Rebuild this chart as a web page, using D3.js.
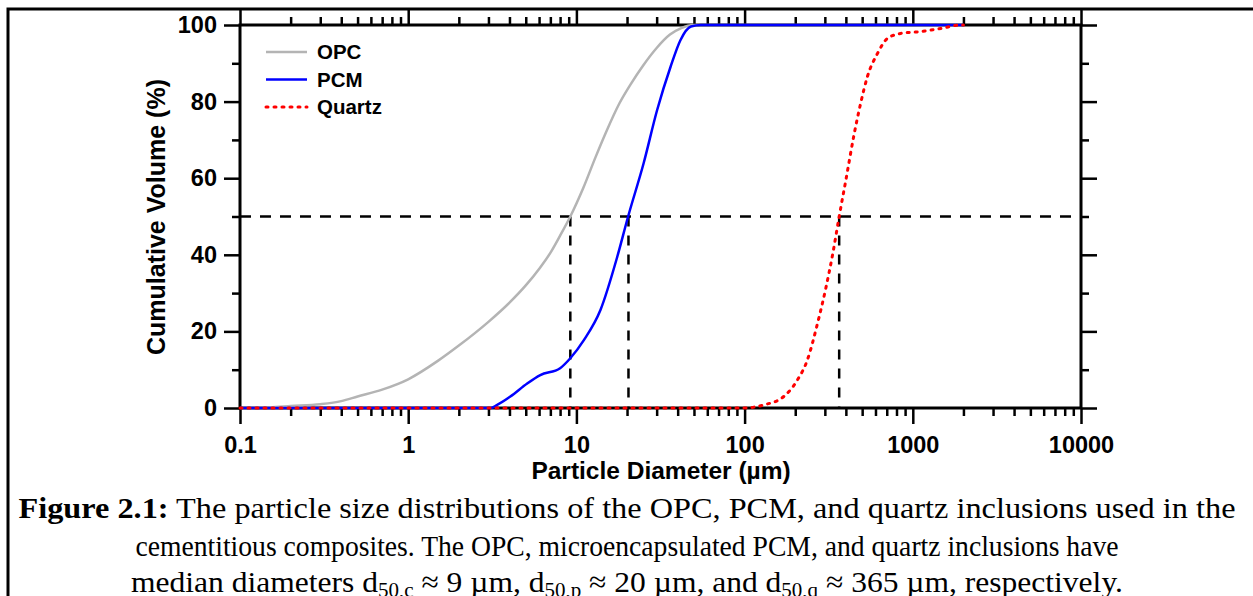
<!DOCTYPE html>
<html>
<head>
<meta charset="utf-8">
<script src="https://cdn.jsdelivr.net/npm/d3@7"></script>
<style>
  body { margin: 0; background: #fff; }
  svg { display: block; }
  .tick text { font-family: "Liberation Sans", Arial, sans-serif; font-weight: bold; }
</style>
</head>
<body>
<svg id="chart" width="1253" height="596"></svg>
<script>
// particle size (µm) and cumulative volume (%)
var opcSize = [0.1, 0.15, 0.2, 0.3, 0.4, 0.5, 0.7, 1, 1.5, 2, 3, 4, 5, 6, 7, 8, 9.2, 11, 13, 15, 18, 21, 25, 30, 36, 42, 50, 2000];
var opcVol  = [0, 0.15, 0.5, 1.0, 1.8, 3, 4.8, 7.5, 12.3, 16.3, 22.5, 27.5, 32, 36.3, 40.5, 45, 50, 57.5, 65.5, 72, 79.5, 84.5, 89.5, 94, 97.5, 99.2, 100, 100];
var pcmSize = [0.1, 3.1, 3.38, 4.05, 5.1, 6.1, 8.0, 9.2, 11.1, 13.9, 17.5, 20.3, 25.1, 30.2, 36.3, 41.6, 48, 55, 2000];
var pcmVol  = [0, 0, 0.8, 3, 6.4, 8.6, 10.4, 13, 17.8, 25.6, 39.5, 50, 63.9, 77.8, 89.1, 96.1, 99.6, 100, 100];
var qtzSize = [0.1, 98, 130, 171, 206, 236, 271, 303, 335, 365, 400, 448, 490, 537, 617, 707, 849, 1117, 1468, 1932, 2000];
var qtzVol  = [0, 0, 0.8, 3, 7.3, 12.5, 22, 31, 40.5, 50, 59.5, 71.5, 79.6, 86.5, 92.6, 96.5, 97.8, 98.3, 99.1, 100, 100];
var seriesNames = ["OPC", "PCM", "Quartz"];
var d50 = [9.2, 20.4, 365];
var xMajor = [0.1, 1, 10, 100, 1000, 10000];
var xLabels = ["0.1", "1", "10", "100", "1000", "10000"];
var yMajor = [0, 20, 40, 60, 80, 100];
var yMinor = [10, 30, 50, 70, 90];

var [plotL, plotR, plotT, plotB] = [240, 1081, 25, 408];
var sans = '"Liberation Sans", Arial, sans-serif';
var serif = '"Liberation Serif", "Times New Roman", serif';

var x = d3.scaleLog().domain([0.1, 10000]).range([plotL, plotR]);
var y = d3.scaleLinear().domain([0, 100]).range([plotB, plotT]);

var xMinor = [];
xMajor.slice(0, -1).forEach(d => { for (var k = 2; k <= 9; k++) xMinor.push(d * k); });

var svg = d3.select("#chart");

/** page frame */
svg.append("path").attr("d", "M8,596V9H1253").attr("fill", "none").attr("stroke", "#000").attr("stroke-width", 3);

/** Axes */
function styleAxis(g) {
    g.select(".domain").remove();
    g.selectAll(".tick line").attr("stroke", "#000").attr("stroke-width", 2.5);
}
svg.append("g").attr("transform", "translate(0," + plotB + ")")
    .call(d3.axisBottom(x).tickValues(xMajor).tickSize(16).tickPadding(12).tickFormat((d, i) => xLabels[i]))
    .call(styleAxis).selectAll("text").attr("font-size", 23.5).attr("fill", "#000");
svg.append("g").attr("transform", "translate(0," + plotB + ")")
    .call(d3.axisBottom(x).tickValues(xMinor).tickSize(8).tickFormat(""))
    .call(styleAxis);
svg.append("g").attr("transform", "translate(0," + plotT + ")")
    .call(d3.axisTop(x).tickValues(xMajor).tickSize(16).tickFormat(""))
    .call(styleAxis);
svg.append("g").attr("transform", "translate(0," + plotT + ")")
    .call(d3.axisTop(x).tickValues(xMinor).tickSize(8).tickFormat(""))
    .call(styleAxis);
svg.append("g").attr("transform", "translate(" + plotL + ",0)")
    .call(d3.axisLeft(y).tickValues(yMajor).tickSize(16).tickPadding(7))
    .call(styleAxis).selectAll("text").attr("font-size", 23.5).attr("fill", "#000");
svg.append("g").attr("transform", "translate(" + plotL + ",0)")
    .call(d3.axisLeft(y).tickValues(yMinor).tickSize(8).tickFormat(""))
    .call(styleAxis);
svg.append("g").attr("transform", "translate(" + plotR + ",0)")
    .call(d3.axisRight(y).tickValues(yMajor).tickSize(16).tickFormat(""))
    .call(styleAxis);
svg.append("g").attr("transform", "translate(" + plotR + ",0)")
    .call(d3.axisRight(y).tickValues(yMinor).tickSize(8).tickFormat(""))
    .call(styleAxis);

/** plot box */
svg.append("rect").attr("x", plotL).attr("y", plotT).attr("width", plotR - plotL).attr("height", plotB - plotT)
    .attr("fill", "none").attr("stroke", "#000").attr("stroke-width", 3);

/** Curves */
var line = d3.line().x(d => x(d[0])).y(d => y(d[1])).curve(d3.curveMonotoneX);
var series = [
    { pts: d3.zip(opcSize, opcVol), color: "#b4b4b4", dash: null },
    { pts: d3.zip(pcmSize, pcmVol), color: "#0000ff", dash: null },
    { pts: d3.zip(qtzSize, qtzVol), color: "#ff0000", dash: "2,6" }
];

/** median guide lines */
var guides = svg.append("g").attr("stroke", "#000").attr("stroke-width", 2.5).attr("stroke-dasharray", "11,9");
guides.append("line").attr("x1", x(0.1)).attr("x2", x(10000)).attr("y1", y(50)).attr("y2", y(50));
guides.selectAll(".v").data(d50).enter().append("line").attr("class", "v")
    .attr("x1", d => x(d)).attr("x2", d => x(d)).attr("y1", y(50)).attr("y2", y(0))
    .attr("stroke-dasharray", "10,9");

svg.selectAll(".curve").data(series).enter().append("path").attr("class", "curve")
    .attr("d", d => line(d.pts)).attr("fill", "none")
    .attr("stroke", d => d.color).attr("stroke-width", d => d.dash ? 3 : 2.5)
    .attr("stroke-dasharray", d => d.dash).attr("stroke-linecap", d => d.dash ? "round" : "butt");

/** Legend */
var lg = svg.append("g").selectAll("g").data(series).enter().append("g")
    .attr("transform", (d, i) => "translate(265," + (52 + i * 27.5) + ")");
lg.append("line").attr("x1", 1).attr("x2", 42)
    .attr("stroke", d => d.color).attr("stroke-width", d => d.dash ? 3 : 2.5)
    .attr("stroke-dasharray", d => d.dash).attr("stroke-linecap", d => d.dash ? "round" : "butt");
lg.append("text").attr("x", 52).attr("y", 7).text((d, i) => seriesNames[i])
    .attr("font-family", sans).attr("font-weight", "bold").attr("font-size", 20.5);

/** Axis titles */
svg.append("text").attr("x", 661).attr("y", 479).attr("text-anchor", "middle")
    .attr("font-family", sans).attr("font-weight", "bold").attr("font-size", 24.5)
    .text("Particle Diameter (µm)");
svg.append("text").attr("transform", "translate(165,217) rotate(-90)").attr("text-anchor", "middle")
    .attr("font-family", sans).attr("font-weight", "bold").attr("font-size", 25)
    .text("Cumulative Volume (%)");

/** Caption */
var cap = svg.append("g").attr("font-family", serif).attr("font-size", 30).attr("text-anchor", "middle");
var l1 = cap.append("text").attr("x", 627).attr("y", 518).attr("textLength", 1217).attr("lengthAdjust", "spacingAndGlyphs");
l1.append("tspan").attr("font-weight", "bold").text("Figure 2.1:");
l1.append("tspan").text(" The particle size distributions of the OPC, PCM, and quartz inclusions used in the");
cap.append("text").attr("x", 627).attr("y", 556).attr("textLength", 983).attr("lengthAdjust", "spacingAndGlyphs")
    .text("cementitious composites. The OPC, microencapsulated PCM, and quartz inclusions have");
var l3 = cap.append("text").attr("x", 627).attr("y", 592).attr("textLength", 992).attr("lengthAdjust", "spacingAndGlyphs");
var parts = [["median diameters d", ""], ["50,c", "sub"], [" ≈ 9 µm, d", ""], ["50,p", "sub"],
             [" ≈ 20 µm, and d", ""], ["50,q", "sub"], [" ≈ 365 µm, respectively.", ""]];
parts.forEach(p => {
    var t = l3.append("tspan").text(p[0]);
    if (p[1]) t.attr("font-size", 20).attr("dy", 5);
    else if (l3.selectAll("tspan").size() > 1) t.attr("dy", -5);
});
</script>
</body>
</html>
